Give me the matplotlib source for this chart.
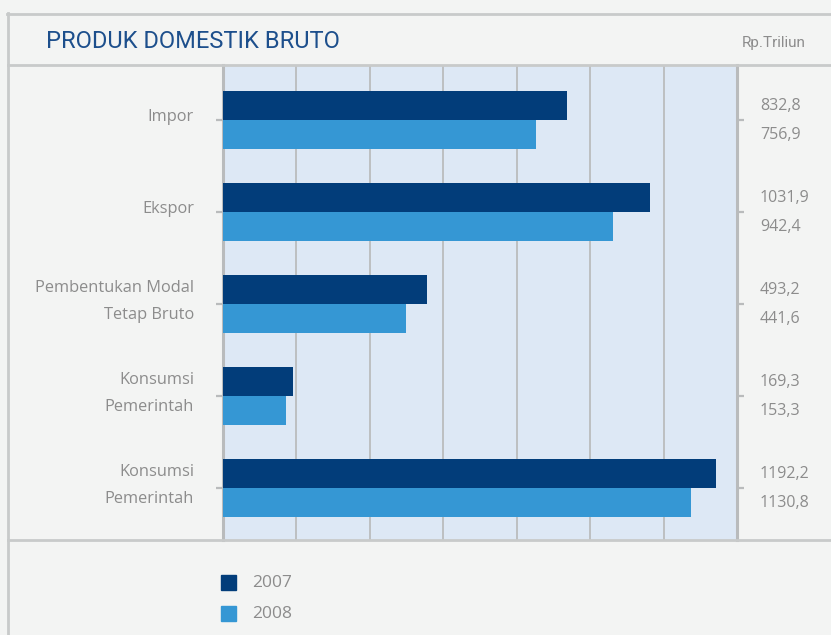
import matplotlib
matplotlib.use("Agg")
import matplotlib.pyplot as plt
from matplotlib.lines import Line2D
import matplotlib.transforms as mtransforms
import numpy as np

categories = ["Impor", "Ekspor", "Pembentukan Modal\nTetap Bruto", "Konsumsi\nPemerintah", "Konsumsi\nPemerintah"]
values_2007 = [832.8, 1031.9, 493.2, 169.3, 1192.2]
values_2008 = [756.9, 942.4, 441.6, 153.3, 1130.8]
labels_2007 = ["832,8", "1031,9", "493,2", "169,3", "1192,2"]
labels_2008 = ["756,9", "942,4", "441,6", "153,3", "1130,8"]
series_names = ["2007", "2008"]

W, H = 831, 635
DPI = 100
BG = "#f3f4f3"
PLOT_BG = "#dde8f5"
DARK = "#023d7a"
LIGHT = "#3597d4"
GRAY_TXT = "#8c8c8c"
LINE = "#c8caca"
FONT = ["Open Sans", "DejaVu Sans"]
TITLE_FONT = ["Roboto", "DejaVu Sans"]

fig = plt.figure(figsize=(W / DPI, H / DPI), dpi=DPI, facecolor=BG)

def px(x0, y0, x1, y1):
    return [x0 / W, 1 - y1 / H, (x1 - x0) / W, (y1 - y0) / H]

ax = fig.add_axes(px(223, 65, 737, 540))
ax.set_facecolor(PLOT_BG)

xmax = 1243
ax.set_xlim(0, xmax)
n = len(categories)
ax.set_ylim(n - 1 + 0.565, -0.598)
pos = np.arange(n)
bh = 0.315
ax.barh(pos - bh / 2, values_2007, height=bh, color=DARK, zorder=3, label=series_names[0])
ax.barh(pos + bh / 2, values_2008, height=bh, color=LIGHT, zorder=3, label=series_names[1])

for gx in np.linspace(0, xmax, 8)[1:-1]:
    ax.axvline(gx, color="#bdbfc1", lw=1.4, zorder=1)

for s in ["top", "bottom"]:
    ax.spines[s].set_visible(False)
for s in ["left", "right"]:
    ax.spines[s].set_color("#b9bbbc")
    ax.spines[s].set_linewidth(2.2)

ax.set_xticks([])
ax.set_yticks(pos)
ax.set_yticklabels([])
ax.tick_params(axis="y", which="both", left=True, right=True, length=5, width=1.6,
               color="#b9bbbc", direction="out")

trans_l = mtransforms.blended_transform_factory(fig.transFigure, ax.transData)
for i, c in enumerate(categories):
    lines = c.split("\n")
    if len(lines) == 1:
        ax.text(194 / W, i - 0.03, lines[0], transform=trans_l, ha="right", va="center",
                fontsize=11.8, color=GRAY_TXT, family=FONT)
    else:
        ax.text(194 / W, i - 0.17, lines[0], transform=trans_l, ha="right", va="center",
                fontsize=11.8, color=GRAY_TXT, family=FONT)
        ax.text(194 / W, i + 0.12, lines[1], transform=trans_l, ha="right", va="center",
                fontsize=11.8, color=GRAY_TXT, family=FONT)
    ax.text(760 / W, i - bh / 2, labels_2007[i], transform=trans_l, ha="left", va="center",
            fontsize=11.5, color=GRAY_TXT, family=FONT)
    ax.text(760 / W, i + bh / 2, labels_2008[i], transform=trans_l, ha="left", va="center",
            fontsize=11.5, color=GRAY_TXT, family=FONT)

# frame lines
def hline(y, x0, x1):
    fig.add_artist(Line2D([x0 / W, x1 / W], [1 - y / H, 1 - y / H], color=LINE, lw=2.0,
                          transform=fig.transFigure))

def vline(x, y0, y1):
    fig.add_artist(Line2D([x / W, x / W], [1 - y0 / H, 1 - y1 / H], color=LINE, lw=2.0,
                          transform=fig.transFigure))

hline(13.5, 7, 831)
vline(8, 13, 635)
hline(64.5, 8, 831)
hline(540, 8, 831)

fig.text(46 / W, 1 - 41 / H, "PRODUK DOMESTIK BRUTO", ha="left", va="center",
         fontsize=17, color="#1d4f8c", family=TITLE_FONT)
fig.text(806 / W, 1 - 43 / H, "Rp.Triliun", ha="right", va="center",
         fontsize=11, color=GRAY_TXT, family=TITLE_FONT)

# legend
for k, (name, col) in enumerate(zip(series_names, [DARK, LIGHT])):
    y0 = 575 + k * 31
    fig.add_artist(plt.Rectangle((221 / W, 1 - (y0 + 15) / H), 15 / W, 15 / H,
                                 color=col, transform=fig.transFigure))
    fig.text(252 / W, 1 - (y0 + 8) / H, name, ha="left", va="center",
             fontsize=12.5, color=GRAY_TXT, family=FONT)

fig.savefig("out.png", dpi=DPI, facecolor=BG)
